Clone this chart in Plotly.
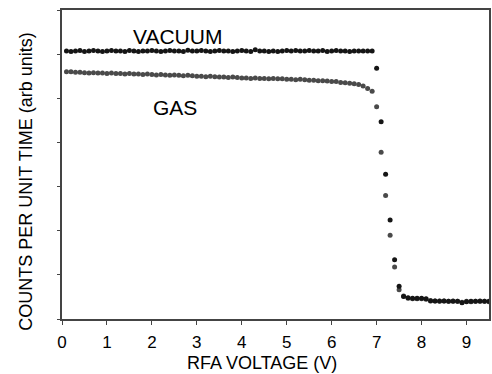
import plotly.graph_objects as go

# x positions (V)
voltage = [round(0.1 * i, 1) for i in range(1, 96)]

vacuum_counts = [
    6.07, 6.06, 6.07, 6.08, 6.06, 6.07, 6.08, 6.07, 6.06, 6.07,
    6.08, 6.07, 6.07, 6.06, 6.08, 6.07, 6.06, 6.07, 6.07, 6.08,
    6.07, 6.06, 6.07, 6.08, 6.07, 6.07, 6.06, 6.09, 6.07, 6.07,
    6.08, 6.07, 6.06, 6.07, 6.08, 6.07, 6.07, 6.06, 6.07, 6.08,
    6.07, 6.06, 6.10, 6.07, 6.07, 6.06, 6.07, 6.06, 6.07, 6.08,
    6.07, 6.08, 6.07, 6.07, 6.08, 6.07, 6.07, 6.08, 6.06, 6.07,
    6.08, 6.07, 6.07, 6.06, 6.07, 6.07, 6.07, 6.07, 6.07,
    5.68, 4.47, 3.28, 2.24, 1.34, 0.74,
    0.51, 0.48, 0.47, 0.47, 0.47, 0.46, 0.41, 0.41, 0.41, 0.41,
    0.40, 0.40, 0.40, 0.37, 0.39, 0.40, 0.40, 0.40, 0.40, 0.40,
]

gas_counts = [
    5.60, 5.60, 5.59, 5.59,
    5.58, 5.57, 5.58, 5.57, 5.57, 5.56,
    5.57, 5.56, 5.56, 5.55, 5.56, 5.55, 5.55, 5.54, 5.55, 5.54,
    5.53, 5.54, 5.53, 5.52, 5.53, 5.52, 5.51, 5.52, 5.51, 5.50,
    5.50, 5.49, 5.50, 5.49, 5.48, 5.48, 5.47, 5.48, 5.47, 5.46,
    5.46, 5.45, 5.46, 5.45, 5.45, 5.44, 5.45, 5.44, 5.44, 5.43,
    5.43, 5.42, 5.43, 5.42, 5.41, 5.41, 5.40, 5.40, 5.39, 5.38,
    5.38, 5.36, 5.35, 5.34, 5.33, 5.31, 5.28, 5.22, 5.16,
    4.81, 3.78, 2.80, 1.90, 1.18, 0.66,
    0.52, 0.47, 0.46, 0.46, 0.46, 0.45, 0.42, 0.41, 0.40, 0.41,
    0.40, 0.41, 0.40, 0.38, 0.40, 0.39, 0.40, 0.41, 0.40, 0.39,
]

x_ticks = [0, 1, 2, 3, 4, 5, 6, 7, 8, 9]
x_tick_labels = ["0", "1", "2", "3", "4", "5", "6", "7", "8", "9"]
y_ticks = [0, 1, 2, 3, 4, 5, 6, 7]

FONT = "Arial, 'Liberation Sans', sans-serif"

fig = go.Figure()
fig.add_trace(go.Scatter(
    x=voltage, y=gas_counts, mode="markers", name="GAS",
    marker=dict(size=5, color="#4a4a4a"), cliponaxis=True,
))
fig.add_trace(go.Scatter(
    x=voltage, y=vacuum_counts, mode="markers", name="VACUUM",
    marker=dict(size=5, color="#151515"), cliponaxis=True,
))

fig.update_layout(
    width=492, height=374,
    margin=dict(l=62, r=1, t=10, b=55),
    paper_bgcolor="white", plot_bgcolor="white",
    showlegend=False,
    font=dict(family=FONT, color="black"),
    xaxis=dict(
        range=[0, 9.5], tickvals=x_ticks, ticktext=x_tick_labels,
        ticks="outside", ticklen=4, tickcolor="#444", tickwidth=1,
        showline=True, linecolor="#444", linewidth=1.5, mirror=True,
        showgrid=False, zeroline=False, ticklabelstandoff=3,
        tickfont=dict(size=17, family=FONT, color="black"),
    ),
    yaxis=dict(
        range=[0, 7], tickvals=y_ticks, showticklabels=False,
        ticks="outside", ticklen=3, tickcolor="#444", tickwidth=1,
        showline=True, linecolor="#444", linewidth=1.5, mirror=True,
        showgrid=False, zeroline=False,
    ),
    annotations=[
        dict(text="RFA VOLTAGE (V)", xref="paper", yref="paper",
             x=(262.5 - 62) / 429, y=(319 - 363) / 309,
             xanchor="center", yanchor="middle", showarrow=False,
             font=dict(size=18, family=FONT, color="black")),
        dict(text="COUNTS PER UNIT TIME (arb units)", xref="paper", yref="paper",
             x=(25 - 62) / 429, y=(319 - 181.5) / 309, textangle=-90,
             xanchor="center", yanchor="middle", showarrow=False,
             font=dict(size=18, family=FONT, color="black")),
        dict(text="VACUUM", xref="x", yref="y", x=2.56, y=6.41,
             xanchor="center", yanchor="middle", showarrow=False,
             font=dict(size=21, family=FONT, color="black")),
        dict(text="GAS", xref="x", yref="y", x=2.51, y=4.80,
             xanchor="center", yanchor="middle", showarrow=False,
             font=dict(size=21, family=FONT, color="black")),
    ],
)

fig.write_html("out.html")
